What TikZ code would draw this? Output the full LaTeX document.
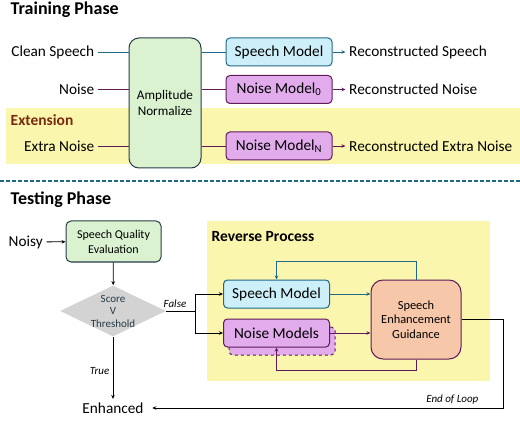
\documentclass[tikz,border=0pt]{standalone}
\usepackage{fontspec}
\setmainfont{Carlito}
\usetikzlibrary{positioning,shapes.geometric,arrows.meta}

\definecolor{greenfill}{HTML}{DAF2D0}
\definecolor{bluefill}{HTML}{CDEFFA}
\definecolor{violetfill}{HTML}{E1ABEC}
\definecolor{peachfill}{HTML}{F7C7A9}
\definecolor{yellowfill}{HTML}{FBF6AE}
\definecolor{darkline}{HTML}{263B48}
\definecolor{tealline}{HTML}{1F6886}
\definecolor{purpleline}{HTML}{5E1B58}
\definecolor{extred}{HTML}{7A2A0C}
\definecolor{greyfill}{HTML}{D3D3D3}

\begin{document}
\begin{tikzpicture}[x=1pt,y=-1pt,>={Stealth[length=4pt,width=3.5pt]},line width=0.8pt,
  big/.style={font=\fontsize{15.3}{17}\selectfont},
  head/.style={font=\bfseries\fontsize{18}{21}\selectfont},
  box/.style={draw,rounded corners=4pt,line width=1pt,minimum height=28pt,minimum width=106pt,align=center,big},
  speech box/.style={box,fill=bluefill,draw=tealline},
  noise box/.style={box,fill=violetfill,draw=purpleline},
  lbl/.style={font=\itshape\fontsize{11}{13}\selectfont}]

\useasboundingbox (0,0) rectangle (520,425);

% training phase
\fill[yellowfill] (6,108) rectangle (520,164);
\node[head,anchor=west] (train) at (7,10) {Training Phase};
\node[anchor=west,text=extred,font=\bfseries\fontsize{15.5}{18}\selectfont] (ext) at (7,120) {Extension};

\node[draw=darkline,fill=greenfill,rounded corners=10pt,line width=1pt,minimum width=72pt,minimum height=130pt,align=center,font=\fontsize{13.2}{16}\selectfont] (amp) at (165,103) {Amplitude\\Normalize};

\node[big,anchor=east] (clean) at (98,52) {Clean Speech};
\node[big,anchor=east] (noise) at (98,89.5) {Noise};
\node[big,anchor=east] (extra) at (98,146) {Extra Noise};

\node[speech box] (sm) at (279,52) {Speech Model};
\node[noise box] (nm0) at (279,89.5) {Noise Model\textsubscript{0}};
\node[noise box] (nmN) at (279,146) {Noise Model\textsubscript{N}};

\node[big,right=13pt of sm] (rs) {Reconstructed Speech};
\node[big,right=13pt of nm0] (rn) {Reconstructed Noise};
\node[big,right=13pt of nmN] (rx) {Reconstructed Extra Noise};

\draw[tealline] (clean) -- (clean -| amp.west);
\draw[purpleline] (noise) -- (noise -| amp.west);
\draw[purpleline] (extra) -- (extra -| amp.west);
\draw[tealline] (amp.east |- sm) -- (sm);
\draw[purpleline] (amp.east |- nm0) -- (nm0);
\draw[purpleline] (amp.east |- nmN) -- (nmN);
\draw[->,tealline] (sm) -- (rs);
\draw[->,purpleline] (nm0) -- (rn);
\draw[->,purpleline] (nmN) -- (rx);

\draw[tealline,line width=1.3pt,dash pattern=on 4pt off 2pt] (0,181) -- (520,181);

% testing phase
\fill[yellowfill] (207,221) rectangle (490,381);
\node[head,anchor=west] (test) at (7,200) {Testing Phase};
\node[anchor=west,font=\bfseries\fontsize{15.5}{18}\selectfont] (rev) at (208,237) {Reverse Process};

\node[big,anchor=west] (noisy) at (5,242) {Noisy};
\node[draw=darkline,fill=greenfill,rounded corners=5pt,line width=1pt,minimum width=95pt,minimum height=41pt,align=center,font=\fontsize{12}{15}\selectfont] (sqe) at (113.5,241.5) {Speech Quality\\Evaluation};
\node[diamond,fill=greyfill,minimum width=106pt,minimum height=51pt,inner sep=0pt] (dec) at (113,311) {};
\node[align=center,font=\fontsize{11}{12.5}\selectfont,text=darkline] (dectext) at (dec) {Score\\V\\Threshold};
\node[big] (enh) at (113,408) {Enhanced};

\node[speech box] (tsm) at (276.5,294) {Speech Model};
\node[noise box,dashed] (shadow) at (282,341) {};
\node[noise box] (tnm) at (276.5,333) {Noise Models};
\node[draw=purpleline,fill=peachfill,rounded corners=12pt,line width=1pt,minimum width=90pt,minimum height=79pt,align=center,font=\fontsize{12.4}{14.5}\selectfont] (seg) at (416,319.5) {Speech\\Enhancement\\Guidance};

\coordinate (split) at (195,311);

\draw[->] (noisy) -- (sqe);
\draw[->] (sqe) -- (dec);
\draw (dec.east) -- node[lbl,above,pos=0.3] {False} (split);
\draw[->] (split) |- (tsm.west);
\draw[->] (split) |- (tnm.west);
\draw[->] (dec.south) -- node[lbl,left,pos=0.55] {True} (enh.north);
\draw[->,tealline] (tsm) -- (seg.west |- tsm);
\draw[->,purpleline] (tnm) -- (seg.west |- tnm);
\draw[->,tealline] (seg.north) -- ++(0,-18) -| (tsm.north);
\draw[->,purpleline] (seg.south) -- ++(0,11) -| (tnm.south);
\draw[->,shorten >=5pt] (seg.east) -- ++(42,0) |- node[lbl,pos=0.53,anchor=south east] {End of Loop} (enh.east);

\end{tikzpicture}
\end{document}
